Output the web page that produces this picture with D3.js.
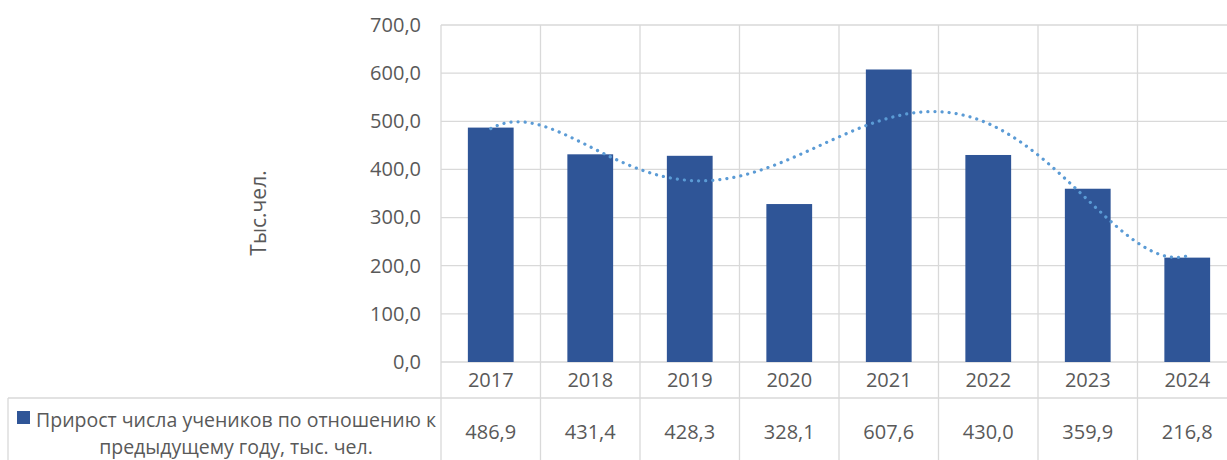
<!DOCTYPE html>
<html><head><meta charset="utf-8">
<script src="https://cdn.jsdelivr.net/npm/d3@7"></script>
<style>body{margin:0;background:#fff;} svg{display:block;font-family:"Open Sans",sans-serif;}</style>
</head><body>
<svg id="c" width="1227" height="460"></svg>
<script>
const years = ["2017","2018","2019","2020","2021","2022","2023","2024"];
const values = [486.9, 431.4, 428.3, 328.1, 607.6, 430.0, 359.9, 216.8];
const yTicks = [0,100,200,300,400,500,600,700];
const seriesName = ["Прирост числа учеников по отношению к", "предыдущему году, тыс. чел."];
const yTitle = "Тыс.чел.";
const trendOrder = 5;

(function(){
const svg = d3.select("#c");
const W = 1227, H = 460;
const pLeft = 441, pRight = 1237, pTop = 25, pBottom = 362;
const tableRow = 398, tableLeft = 8;
const grid = "#d9d9d9", txt = "#595959";

const x = d3.scaleBand().domain(years).range([pLeft, pRight]).padding(0);
const y = d3.scaleLinear().domain([0, 700]).range([pBottom, pTop]);
const fmt = v => d3.format(".1f")(v).replace(".", ",");

svg.append("g").selectAll("line").data(yTicks).join("line")
  .attr("x1", pLeft).attr("x2", pRight)
  .attr("y1", d => y(d)).attr("y2", d => y(d))
  .attr("stroke", grid).attr("stroke-width", 1.3);

const bounds = years.map(d => x(d)).concat([pRight]);
svg.append("g").selectAll("line").data(bounds).join("line")
  .attr("x1", d => d).attr("x2", d => d)
  .attr("y1", pTop).attr("y2", H)
  .attr("stroke", grid).attr("stroke-width", 1.3);

svg.append("line").attr("x1", tableLeft).attr("x2", pRight).attr("y1", tableRow).attr("y2", tableRow)
  .attr("stroke", grid).attr("stroke-width", 1.3);
svg.append("line").attr("x1", tableLeft).attr("x2", tableLeft).attr("y1", tableRow).attr("y2", H)
  .attr("stroke", grid).attr("stroke-width", 1.3);

const yAxis = d3.axisLeft(y).tickValues(yTicks).tickFormat(fmt).tickSize(0).tickPadding(20);
const ga = svg.append("g").attr("transform", `translate(${pLeft},0)`).call(yAxis);
ga.select(".domain").remove();
ga.selectAll("text").attr("fill", txt).style("font-size", "20px").style("font-family", '"Open Sans",sans-serif');

const bw = x.bandwidth() * 0.46;
svg.append("g").selectAll("rect").data(values).join("rect")
  .attr("x", (d, i) => x(years[i]) + (x.bandwidth() - bw) / 2)
  .attr("width", bw)
  .attr("y", d => y(d)).attr("height", d => y(0) - y(d))
  .attr("fill", "#2F5597");

function polyfit(xs, ys, n) {
  const m = n + 1;
  const A = Array.from({length: m}, () => new Array(m + 1).fill(0));
  for (let r = 0; r < m; r++) {
    for (let c = 0; c < m; c++) A[r][c] = d3.sum(xs, xv => Math.pow(xv, r + c));
    A[r][m] = d3.sum(xs, (xv, i) => Math.pow(xv, r) * ys[i]);
  }
  for (let i = 0; i < m; i++) {
    let p = i; for (let k = i + 1; k < m; k++) if (Math.abs(A[k][i]) > Math.abs(A[p][i])) p = k;
    [A[i], A[p]] = [A[p], A[i]];
    for (let k = 0; k < m; k++) if (k !== i) {
      const f = A[k][i] / A[i][i];
      for (let c = i; c <= m; c++) A[k][c] -= f * A[i][c];
    }
  }
  return A.map((row, i) => row[m] / row[i]);
}
const xs = years.map((d, i) => i + 1);
const coef = polyfit(xs, values, trendOrder);
const pv = t => coef.reduce((s, c, k) => s + c * Math.pow(t, k), 0);
const xi = d3.scaleLinear().domain([1, years.length]).range([x(years[0]) + x.bandwidth() / 2, x(years[years.length - 1]) + x.bandwidth() / 2]);
const samples = d3.range(1, years.length + 0.001, 0.02);
svg.append("path")
  .datum(samples)
  .attr("d", d3.line().x(t => xi(t)).y(t => y(pv(t))))
  .attr("fill", "none").attr("stroke", "#5B9BD5").attr("stroke-width", 3.2)
  .attr("stroke-linecap", "round").attr("stroke-dasharray", "0.1 7");

svg.append("g").selectAll("text").data(years).join("text")
  .attr("x", d => x(d) + x.bandwidth() / 2).attr("y", 387)
  .attr("text-anchor", "middle").attr("fill", txt).style("font-size", "20px").text(d => d);
svg.append("g").selectAll("text").data(values).join("text")
  .attr("x", (d, i) => x(years[i]) + x.bandwidth() / 2).attr("y", 439)
  .attr("text-anchor", "middle").attr("fill", txt).style("font-size", "20px").text(d => fmt(d));

svg.append("rect").attr("x", 17).attr("y", 411).attr("width", 13).attr("height", 13).attr("fill", "#2F5597");
svg.append("text").attr("x", 36).attr("y", 427).attr("fill", txt).style("font-size", "19.5px").text(seriesName[0]);
svg.append("text").attr("x", 236).attr("y", 454).attr("text-anchor", "middle").attr("fill", txt).style("font-size", "19.5px").text(seriesName[1]);

svg.append("text").attr("transform", "translate(266,213) rotate(-90)")
  .attr("text-anchor", "middle").attr("fill", txt).style("font-size", "21px").text(yTitle);
})();
</script>
</body></html>
